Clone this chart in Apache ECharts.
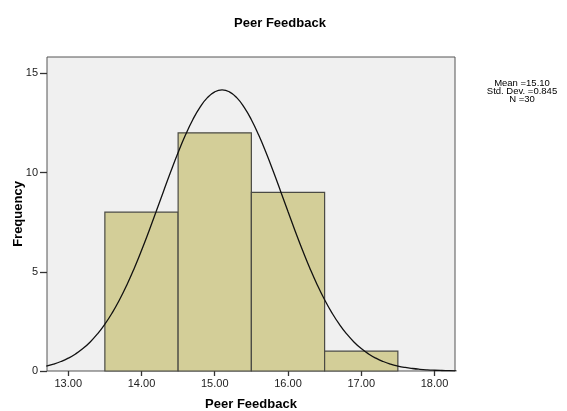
<!DOCTYPE html>
<html>
<head>
<meta charset="utf-8">
<script src="https://cdn.jsdelivr.net/npm/echarts@6/dist/echarts.min.js"></script>
<style>
html,body{margin:0;padding:0;background:#fff;}
#c{width:567px;height:411px;}
</style>
</head>
<body>
<div id="c"></div>
<script>
// Histogram bins (lower edge, upper edge) and frequencies
const binStart = [13.5, 14.5, 15.5, 16.5];
const binEnd   = [14.5, 15.5, 16.5, 17.5];
const freq     = [8, 12, 9, 1];

// Normal curve (Mean 15.10, SD 0.845, N 30)
const curveX = [12.7,12.8,12.9,13.0,13.1,13.2,13.3,13.4,13.5,13.6,13.7,13.8,13.9,14.0,14.1,14.2,14.3,14.4,14.5,14.6,14.7,14.8,14.9,15.0,15.1,
                15.2,15.3,15.4,15.5,15.6,15.7,15.8,15.9,16.0,16.1,16.2,16.3,16.4,16.5,16.6,16.7,16.8,16.9,17.0,17.1,17.2,17.3,17.4,17.5,17.6,17.7,17.8,17.9,18.0,18.1,18.2,18.3];
const curveY = [0.251,0.349,0.478,0.646,0.860,1.131,1.465,1.872,2.358,2.930,3.590,4.337,5.167,6.070,7.031,8.032,9.048,10.049,11.008,11.888,12.662,13.298,13.772,14.064,14.163,
                14.064,13.772,13.298,12.662,11.888,11.008,10.049,9.048,8.032,7.031,6.070,5.167,4.337,3.590,2.930,2.358,1.872,1.465,1.131,0.860,0.646,0.478,0.349,0.251,0.178,0.125,0.086,0.058,0.039,0.026,0.017,0.011];

const xTicks = [13, 14, 15, 16, 17, 18];
const yTicks = [0, 5, 10, 15];

const title = 'Peer Feedback';
const xName = 'Peer Feedback';
const yName = 'Frequency';
const statsLines = ['Mean =15.10', 'Std. Dev. =0.845', 'N =30'];

const chart = echarts.init(document.getElementById('c'), null, {renderer: 'canvas'});

const barData = binStart.map((s, i) => [s, binEnd[i], freq[i]]);
const lineData = curveX.map((x, i) => [x, curveY[i]]);

const font = 'Arial, "Liberation Sans", sans-serif';

const statsGraphics = statsLines.map((t, i) => ({
  type: 'text', x: 522, y: 83 + i * 8,
  style: {text: t, fontFamily: font, fontSize: 9.5, fill: '#000', align: 'center', verticalAlign: 'middle'}
}));

chart.setOption({
  animation: false,
  backgroundColor: '#ffffff',
  title: {
    text: title,
    left: 275, top: 12, textAlign: 'center',
    textStyle: {fontFamily: font, fontSize: 13, fontWeight: 'bold', color: '#000'}
  },
  grid: {
    left: 47, right: 112, top: 57, bottom: 40,
    outerBoundsMode: 'none', containLabel: false,
    show: true, backgroundColor: '#f0f0f0', borderColor: '#555', borderWidth: 1
  },
  xAxis: {
    type: 'value', min: 12.71, max: 18.28,
    name: xName, nameLocation: 'middle', nameGap: 27, nameMoveOverlap: false,
    nameTextStyle: {fontFamily: font, fontSize: 13, fontWeight: 'bold', color: '#000'},
    axisLine: {show: false},
    splitLine: {show: false},
    axisTick: {show: true, customValues: xTicks, length: 5, lineStyle: {color: '#333', width: 1.3}},
    axisLabel: {customValues: xTicks, formatter: v => v.toFixed(2), fontFamily: font, fontSize: 11, color: '#222', margin: 7}
  },
  yAxis: {
    type: 'value', min: 0, max: 15.82,
    name: yName, nameLocation: 'middle', nameGap: 22, nameMoveOverlap: false,
    nameTextStyle: {fontFamily: font, fontSize: 13, fontWeight: 'bold', color: '#000'},
    axisLine: {show: false},
    splitLine: {show: false},
    axisTick: {show: true, customValues: yTicks, length: 7, lineStyle: {color: '#333', width: 1.3}},
    axisLabel: {customValues: yTicks, formatter: v => String(v), fontFamily: font, fontSize: 11, color: '#222', margin: 9}
  },
  graphic: statsGraphics,
  series: [
    {
      type: 'custom',
      data: barData,
      encode: {x: [0, 1], y: 2},
      renderItem: function (params, api) {
        const p0 = api.coord([api.value(0), api.value(2)]);
        const p1 = api.coord([api.value(1), 0]);
        return {
          type: 'rect',
          shape: {x: p0[0], y: p0[1], width: p1[0] - p0[0], height: p1[1] - p0[1]},
          style: {fill: '#d3ce98', stroke: '#4a4a44', lineWidth: 1.2}
        };
      },
      z: 2
    },
    {
      type: 'line',
      data: lineData,
      smooth: true,
      showSymbol: false,
      symbol: 'none',
      lineStyle: {color: '#111', width: 1.3},
      z: 3
    }
  ]
});
</script>
</body>
</html>
